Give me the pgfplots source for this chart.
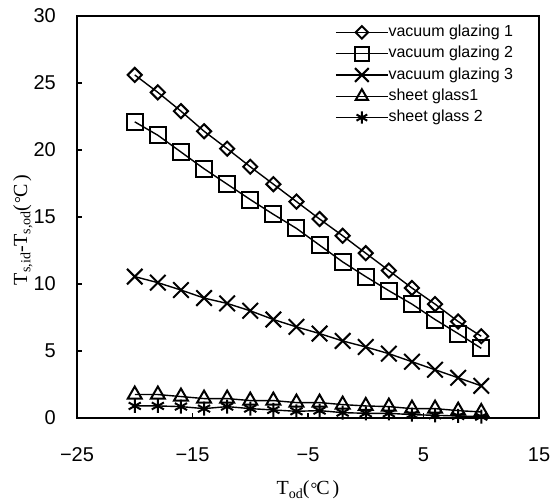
\documentclass[border=0pt]{standalone}
\usepackage{fontspec}
\setmainfont{Liberation Sans}
\newfontfamily\serif{Liberation Serif}
\usepackage{pgfplots}
\usepackage{pgfplotstable}
\pgfplotsset{compat=1.18}
\pgfplotstableread{
x    a     b     c     d     e
-20  25.6  22.1  10.55 1.75  0.9
-18  24.3  21.1  10.1  1.75  0.9
-16  22.9  19.85 9.55  1.6   0.85
-14  21.4  18.6  8.95  1.45  0.7
-12  20.1  17.45 8.55  1.45  0.85
-10  18.75 16.3  8.0   1.3   0.7
-8   17.45 15.2  7.35  1.3   0.6
-6   16.15 14.15 6.8   1.15  0.5
-4   14.85 12.9  6.3   1.15  0.55
-2   13.6  11.65 5.75  1.0   0.4
0    12.3  10.55 5.3   0.9   0.35
2    11.0  9.5   4.8   0.85  0.35
4    9.7   8.5   4.2   0.7   0.25
6    8.5   7.35  3.6   0.7   0.2
8    7.2   6.3   3.0   0.55  0.15
10   6.1   5.2   2.4   0.45  0.1
}\data
\newcommand{\sub}[1]{\raisebox{-0.35ex}{\fontsize{14}{14}\selectfont #1}}
\newcommand{\degc}{(\kern1pt\raisebox{0.1ex}{\fontsize{17}{17}\selectfont °}\kern-1pt C\kern3pt)}
\begin{document}
\begin{tikzpicture}
\begin{axis}[name=ax,
  scale only axis, width=462pt, height=402pt,
  xmin=-25, xmax=15, ymin=0, ymax=30,
  xtick={-25,-15,-5,5,15}, xticklabels={−25,−15,−5,5,15},
  ytick={0,5,...,30},
  tick align=inside, xtick pos=bottom, ytick pos=left,
  major tick length=5pt,
  axis line style={line width=1.6pt},
  every tick/.style={line width=1.3pt, black},
  /pgf/number format/assume math mode=true,
  tick label style={font=\fontsize{20}{24}\selectfont},
  xticklabel style={anchor=center, inner sep=0pt, yshift=-37pt},
  yticklabel style={anchor=east, inner sep=0pt, xshift=-21pt},
  clip=false,
  xlabel={\serif\fontsize{20}{24}\selectfont T\sub{od}\degc},
  xlabel style={at={(axis description cs:0.5,0)}, anchor=base, yshift=-77pt, inner sep=0pt},
  ylabel={\serif\fontsize{20}{24}\selectfont T\sub{s,id}-T\sub{s,od}\degc},
  ylabel style={at={(axis description cs:-0.117,0.468)}, anchor=center, inner sep=0pt},
  legend style={draw=none, fill=none, at={(0.5584,0.979)}, anchor=north west,
    inner sep=0pt, row sep=5.8pt, font=\fontsize{16}{18}\selectfont,
    nodes={inner sep=0pt, text height=12pt, text depth=3.5pt},
    /tikz/every even column/.append style={column sep=2pt}},
  legend cell align=left,
  legend image code/.code={\draw[mark repeat=2,mark phase=2,/tikz/every mark/.append style={scale=0.88}] plot coordinates {(0pt,0pt) (26pt,0pt) (52pt,0pt)};},
  every axis plot/.append style={black, line width=1.4pt},
]
\addplot[mark=square, mark size=5pt, mark options={rotate=45, solid, line width=2pt, fill=none}] table[x=x,y=a]{\data};
\addlegendentry{vacuum glazing 1}
\addplot[mark=square, mark size=8pt, mark options={solid, line width=2pt, fill=none}] table[x=x,y=b]{\data};
\addlegendentry{vacuum glazing 2}
\addplot[mark=x, mark size=11pt, mark options={solid, line width=2pt, fill=none}] table[x=x,y=c]{\data};
\addlegendentry{vacuum glazing 3}
\addplot[mark=triangle, mark size=8pt, mark options={solid, line width=2pt, fill=none}] table[x=x,y=d]{\data};
\addlegendentry{sheet glass1}
\addplot[mark=asterisk, mark size=7pt, mark options={solid, line width=2pt, fill=none}] table[x=x,y=e]{\data};
\addlegendentry{sheet glass 2}
\end{axis}
\pgfresetboundingbox
\path[use as bounding box] ([xshift=-77pt,yshift=-82pt]ax.south west) rectangle ([xshift=15pt,yshift=16pt]ax.north east);
\end{tikzpicture}
\end{document}
